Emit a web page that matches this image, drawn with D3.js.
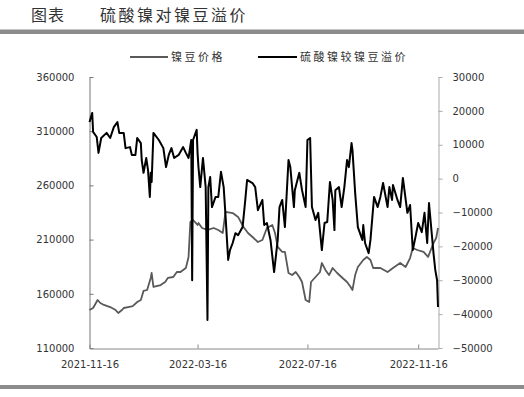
<!DOCTYPE html>
<html><head><meta charset="utf-8">
<script src="https://cdn.jsdelivr.net/npm/d3@7"></script>
<style>body{margin:0;background:#fff}svg{display:block}</style>
</head><body>
<svg id="c" width="524" height="397"></svg>
<script>
const titleLabel = "图表";
const titleText = "硫酸镍对镍豆溢价";
const seriesNames = ["镍豆价格", "硫酸镍较镍豆溢价"];
const leftTicks = [110000, 160000, 210000, 260000, 310000, 360000];
const rightTicks = [-50000, -40000, -30000, -20000, -10000, 0, 10000, 20000, 30000];
const xTickLabels = ["2021-11-16", "2022-03-16", "2022-07-16", "2022-11-16"];
const xDomain = ["2021-11-16", "2022-12-08"];

const priceDates = ["2021-11-16","2021-11-20","2021-11-25","2021-11-28","2021-12-02","2021-12-09","2021-12-15","2021-12-18","2021-12-22","2021-12-24","2021-12-29","2022-01-03","2022-01-08","2022-01-12","2022-01-15","2022-01-19","2022-01-23","2022-01-24","2022-01-26","2022-02-03","2022-02-08","2022-02-11","2022-02-17","2022-02-21","2022-02-25","2022-03-03","2022-03-06","2022-03-08","2022-03-11","2022-03-16","2022-03-17","2022-03-21","2022-03-27","2022-04-03","2022-04-08","2022-04-13","2022-04-16","2022-04-24","2022-04-30","2022-05-06","2022-05-11","2022-05-16","2022-05-22","2022-05-27","2022-06-01","2022-06-07","2022-06-10","2022-06-13","2022-06-18","2022-06-21","2022-06-25","2022-06-29","2022-07-03","2022-07-07","2022-07-10","2022-07-14","2022-07-18","2022-07-20","2022-07-25","2022-07-30","2022-08-01","2022-08-05","2022-08-09","2022-08-13","2022-08-18","2022-08-24","2022-08-29","2022-09-02","2022-09-04","2022-09-07","2022-09-10","2022-09-16","2022-09-20","2022-09-24","2022-09-27","2022-10-05","2022-10-13","2022-10-19","2022-10-27","2022-11-02","2022-11-07","2022-11-10","2022-11-15","2022-11-22","2022-11-27","2022-12-03","2022-12-06","2022-12-08"];
const priceValues = [145000,146900,154300,151500,149700,147800,145000,142300,145000,146900,147800,148700,152400,154300,162600,163500,174600,179200,166300,168100,170900,174600,175500,180100,180100,183800,194000,226200,228100,223500,225300,220700,218900,220700,218900,216100,235500,234500,230900,221600,216100,212400,207800,209600,220700,223500,216100,203200,198600,198600,179200,177300,180100,175500,170900,154300,152400,170900,175500,180100,188400,182000,177300,183800,179200,174600,170900,166300,163500,177300,184700,191200,194000,191200,183800,183800,180100,183800,188400,184700,193000,202300,200400,198600,194000,206900,211500,220700];

const premiumDates = ["2021-11-16","2021-11-19","2021-11-20","2021-11-24","2021-11-26","2021-11-29","2021-12-05","2021-12-09","2021-12-13","2021-12-17","2021-12-19","2021-12-24","2021-12-26","2021-12-31","2022-01-02","2022-01-06","2022-01-08","2022-01-12","2022-01-13","2022-01-15","2022-01-18","2022-01-20","2022-01-22","2022-01-23","2022-01-24","2022-01-26","2022-02-01","2022-02-06","2022-02-09","2022-02-12","2022-02-15","2022-02-18","2022-02-23","2022-02-28","2022-03-03","2022-03-06","2022-03-09","2022-03-10","2022-03-11","2022-03-15","2022-03-16","2022-03-17","2022-03-19","2022-03-22","2022-03-25","2022-03-27","2022-03-28","2022-03-30","2022-04-01","2022-04-05","2022-04-08","2022-04-11","2022-04-14","2022-04-16","2022-04-19","2022-04-21","2022-04-24","2022-04-27","2022-04-30","2022-05-05","2022-05-08","2022-05-10","2022-05-16","2022-05-19","2022-05-22","2022-05-27","2022-05-29","2022-06-01","2022-06-05","2022-06-09","2022-06-13","2022-06-15","2022-06-18","2022-06-21","2022-06-25","2022-06-27","2022-07-01","2022-07-02","2022-07-07","2022-07-10","2022-07-14","2022-07-16","2022-07-19","2022-07-21","2022-07-25","2022-07-28","2022-08-01","2022-08-04","2022-08-07","2022-08-10","2022-08-13","2022-08-15","2022-08-16","2022-08-20","2022-08-23","2022-08-26","2022-08-29","2022-08-31","2022-09-03","2022-09-04","2022-09-07","2022-09-10","2022-09-15","2022-09-16","2022-09-18","2022-09-22","2022-09-24","2022-09-28","2022-10-02","2022-10-05","2022-10-08","2022-10-13","2022-10-15","2022-10-18","2022-10-19","2022-10-24","2022-10-27","2022-10-30","2022-11-04","2022-11-07","2022-11-10","2022-11-13","2022-11-16","2022-11-20","2022-11-23","2022-11-26","2022-11-28","2022-12-03","2022-12-05","2022-12-07","2022-12-08"];
const premiumValues = [16700,19400,13800,12300,7600,12000,13500,12000,15200,16700,13500,13500,9000,9300,7000,7000,12000,10500,5500,1700,6100,2500,-5400,1700,-1000,13500,11400,9000,3400,7000,9000,6100,7000,9300,7600,6100,11400,-30000,11400,14400,7600,3400,-2500,6100,-2500,-41700,-2500,500,-8400,-5400,-5400,2000,-2500,-10700,-24000,-21100,-19000,-16100,-16700,-14300,-6300,-400,-1300,-2500,-9300,-6300,-13700,-13100,-18100,-27600,-18100,-8400,-6300,-14300,5500,3400,-8400,-3400,1700,-3400,-8400,11400,12000,-8400,-12200,-10100,-21100,-13100,-12800,-1000,-6300,-15200,-3400,-2500,-8400,-2500,5500,3400,10500,8500,-4200,-14300,-18100,-13700,-19000,-22000,-18100,-5400,-8400,-5400,-1300,-8400,-2500,-6300,-1900,-6300,-8400,200,-10100,-7800,-21100,-17200,-13100,-15800,-10100,-19000,-7200,-22000,-27000,-30000,-37900];

const parse = d3.timeParse("%Y-%m-%d");
const svg = d3.select("#c");
const numFont = "DejaVu Sans, sans-serif";
const cjkFont = "'Noto Sans CJK SC', sans-serif";

// header
svg.append("text").attr("x", 31).attr("y", 21).attr("font-family", cjkFont).attr("font-size", 16)
  .attr("letter-spacing", "1px").attr("fill", "#333").text(titleLabel);
svg.append("text").attr("x", 100).attr("y", 21).attr("font-family", cjkFont).attr("font-size", 16)
  .attr("letter-spacing", "2.5px").attr("fill", "#333").text(titleText);
svg.append("rect").attr("x", 0).attr("y", 29.5).attr("width", 524).attr("height", 4.5).attr("fill", "#8c8c8c");
svg.append("rect").attr("x", 0).attr("y", 385).attr("width", 524).attr("height", 4).attr("fill", "#8c8c8c");

const x = d3.scaleTime().domain(xDomain.map(parse)).range([89.5, 438]);
const yL = d3.scaleLinear().domain([110000, 360000]).range([348, 77]);
const yR = d3.scaleLinear().domain([-50000, 30000]).range([348, 77]);

function styleAxis(g, col) {
  g.select(".domain").attr("stroke", col).attr("stroke-width", 1);
  g.selectAll(".tick line").attr("stroke", col);
  g.selectAll(".tick text").attr("fill", "#333").attr("font-family", numFont).attr("font-size", 10);
}

const gL = svg.append("g").attr("transform", "translate(89.5,0)")
  .call(d3.axisLeft(yL).tickValues(leftTicks).tickSizeInner(-4).tickSizeOuter(0).tickPadding(15).tickFormat(d3.format("d")));
styleAxis(gL, "#777");
const gR = svg.append("g").attr("transform", "translate(438.5,0)")
  .call(d3.axisRight(yR).tickValues(rightTicks).tickSizeInner(4).tickSizeOuter(0).tickPadding(10).tickFormat(d3.format("d")));
styleAxis(gR, "#aaa");
const gB = svg.append("g").attr("transform", "translate(0,348.5)")
  .call(d3.axisBottom(x).tickValues(xTickLabels.map(parse)).tickSizeInner(-4).tickSizeOuter(0).tickPadding(12).tickFormat(d3.timeFormat("%Y-%m-%d")));
styleAxis(gB, "#888");

const priceData = priceDates.map((d, i) => ({ d: parse(d), v: priceValues[i] }));
const premiumData = premiumDates.map((d, i) => ({ d: parse(d), v: premiumValues[i] }));

svg.append("path").datum(priceData)
  .attr("fill", "none").attr("stroke", "#595959").attr("stroke-width", 1.8).attr("stroke-linejoin", "round")
  .attr("d", d3.line().x(p => x(p.d)).y(p => yL(p.v)));
svg.append("path").datum(premiumData)
  .attr("fill", "none").attr("stroke", "#000").attr("stroke-width", 2).attr("stroke-linejoin", "round")
  .attr("d", d3.line().x(p => x(p.d)).y(p => yR(p.v)));

// legend
const legend = [{ x1: 130, x2: 168, tx: 171, col: "#595959", w: 1.8 }, { x1: 258, x2: 297, tx: 300, col: "#000", w: 2 }];
legend.forEach((l, i) => {
  svg.append("line").attr("x1", l.x1).attr("x2", l.x2).attr("y1", 57).attr("y2", 57).attr("stroke", l.col).attr("stroke-width", l.w);
  svg.append("text").attr("x", l.tx).attr("y", 57).attr("dy", "0.35em").attr("font-family", cjkFont).attr("font-size", 11)
    .attr("letter-spacing", "2.5px").attr("fill", "#333").text(seriesNames[i]);
});
</script>
</body></html>
